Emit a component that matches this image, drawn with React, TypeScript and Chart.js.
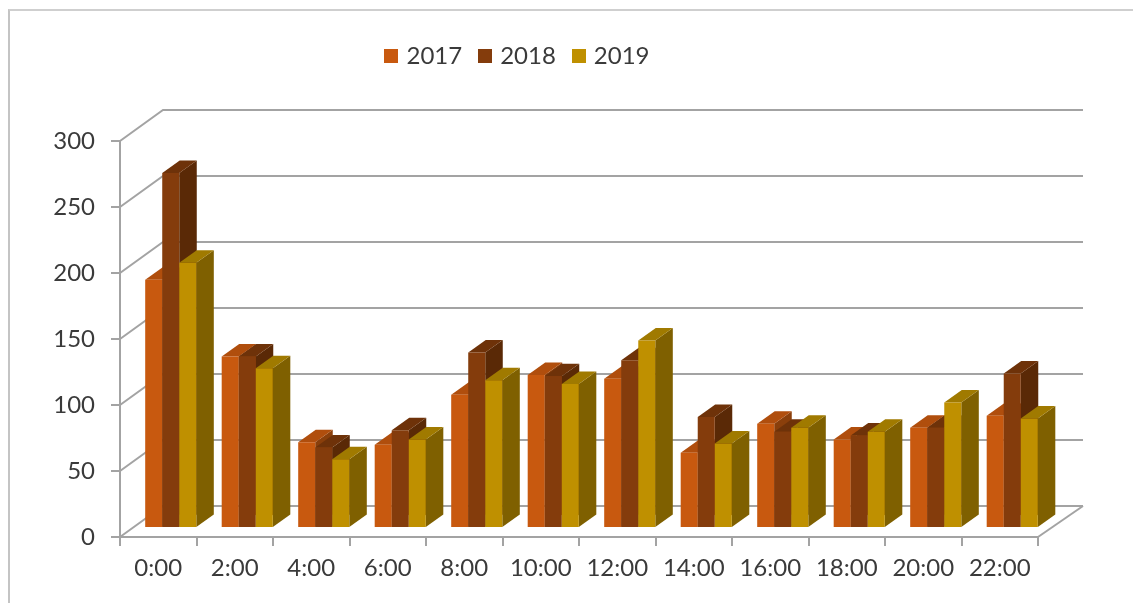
import React, { useEffect, useRef } from "react";
import { Chart, registerables } from "chart.js";

Chart.register(...registerables);

const categories = ["0:00", "2:00", "4:00", "6:00", "8:00", "10:00", "12:00", "14:00", "16:00", "18:00", "20:00", "22:00"];
const values2017 = [188, 130, 65, 63, 101, 116, 113, 57, 79, 67, 76, 85];
const values2018 = [269, 130, 61, 74, 133, 115, 127, 84, 73, 70, 76, 117];
const values2019 = [201, 121, 52, 67, 112, 109, 142, 64, 76, 73, 95, 83];
const seriesNames = ["2017", "2018", "2019"];
const frontColors = ["#C8590F", "#843C0C", "#BF9000"];
const sideColors = ["#8A3F0B", "#5A2906", "#7F6000"];
const topColors = ["#B04E0D", "#6E3209", "#A07A00"];

const WALL_DX = 43;
const WALL_DY = -31;
const BAR_DX = 12.5;
const BAR_DY = -9;
const DEPTH_DX = 17.5;
const DEPTH_DY = -12.5;
const LINE = "#A3A3A3";
const TEXT = "#3A3A3A";
const FONT = "Lato";

function swatch(color: string) {
  const c = document.createElement("canvas");
  c.width = 14;
  c.height = 14;
  const g = c.getContext("2d")!;
  g.fillStyle = color;
  g.fillRect(0, 0, 14, 14);
  return c;
}

const scene3d = {
  id: "scene3d",
  beforeLayout(chart: any) {
    const legend = chart.legend;
    if (legend && !legend.__wrapped) {
      const fit = legend.fit;
      legend.fit = function () {
        fit.call(this);
        this.height = 117;
      };
      legend.__wrapped = true;
    }
  },
  beforeDatasetsDraw(chart: any) {
    const { ctx, chartArea, scales } = chart;
    const { left, right, bottom } = chartArea;
    const y = scales.y;

    ctx.save();
    ctx.strokeStyle = LINE;
    ctx.lineWidth = 2;
    for (const tick of y.ticks) {
      const py = y.getPixelForValue(tick.value);
      ctx.beginPath();
      ctx.moveTo(left, py);
      ctx.lineTo(left + WALL_DX, py + WALL_DY);
      ctx.lineTo(right + WALL_DX + 2, py + WALL_DY);
      ctx.stroke();
    }
    ctx.beginPath();
    ctx.moveTo(right, bottom);
    ctx.lineTo(right + WALL_DX + 2, bottom + WALL_DY);
    ctx.stroke();
    ctx.restore();

    ctx.save();
    ctx.translate(BAR_DX, BAR_DY);
    chart.data.datasets.forEach((_: any, di: number) => {
      const meta = chart.getDatasetMeta(di);
      meta.data.forEach((bar: any) => {
        const p = bar.getProps(["x", "y", "base", "width"], true);
        const l = p.x - p.width / 2;
        const r = p.x + p.width / 2;
        ctx.fillStyle = sideColors[di];
        ctx.beginPath();
        ctx.moveTo(r, p.y);
        ctx.lineTo(r + DEPTH_DX, p.y + DEPTH_DY);
        ctx.lineTo(r + DEPTH_DX, p.base + DEPTH_DY);
        ctx.lineTo(r, p.base);
        ctx.closePath();
        ctx.fill();
        ctx.fillStyle = topColors[di];
        ctx.beginPath();
        ctx.moveTo(l, p.y);
        ctx.lineTo(l + DEPTH_DX, p.y + DEPTH_DY);
        ctx.lineTo(r + DEPTH_DX, p.y + DEPTH_DY);
        ctx.lineTo(r, p.y);
        ctx.closePath();
        ctx.fill();
        bar.draw(ctx, chartArea);
      });
    });
    ctx.restore();
    return false;
  },
};

export default function App() {
  const ref = useRef<HTMLCanvasElement>(null);
  useEffect(() => {
    const series = [values2017, values2018, values2019];
    const chart = new Chart(ref.current!, {
      type: "bar",
      plugins: [scene3d],
      data: {
        labels: categories,
        datasets: series.map((data, i) => ({
          label: seriesNames[i],
          data,
          backgroundColor: frontColors[i],
          borderWidth: 0,
          categoryPercentage: 0.668,
          barPercentage: 1,
        })),
      },
      options: {
        animation: false,
        responsive: false,
        devicePixelRatio: 1,
        layout: { padding: { top: 24, right: 95, left: 0, bottom: 0 } },
        plugins: {
          tooltip: { enabled: false },
          legend: {
            position: "top",
            labels: {
              usePointStyle: true,
              boxWidth: 6,
              boxHeight: 14,
              padding: 20,
              color: TEXT,
              font: { family: FONT, size: 24 },
              generateLabels: () =>
                seriesNames.map((text, i) => ({
                  text,
                  datasetIndex: i,
                  pointStyle: swatch(frontColors[i]),
                  fontColor: TEXT,
                  lineWidth: 0,
                })),
            },
          },
        },
        scales: {
          x: {
            afterFit(s: any) {
              s.height = 66;
            },
            grid: { drawOnChartArea: false, color: LINE, tickLength: 9, lineWidth: 2 },
            border: { color: LINE, width: 2 },
            ticks: { color: TEXT, font: { family: FONT, size: 24 }, padding: 8, maxRotation: 0, autoSkip: false },
          },
          y: {
            min: 0,
            max: 300,
            afterFit(s: any) {
              s.width = 120;
            },
            grid: { drawOnChartArea: false, color: LINE, tickLength: 9, lineWidth: 2 },
            border: { color: LINE, width: 2 },
            ticks: { stepSize: 50, color: TEXT, font: { family: FONT, size: 24 }, padding: 16 },
          },
        },
      },
    } as any);
    return () => chart.destroy();
  }, []);

  return (
    <div style={{ position: "absolute", left: 0, top: 0, width: 1133, height: 603, overflow: "hidden", background: "#fff", filter: "blur(0.6px)" }}>
      <div style={{ position: "absolute", left: 8, top: 9, right: -4, bottom: -4, borderLeft: "2px solid #C4C4C4", borderTop: "2px solid #CFCFCF" }} />
      <canvas ref={ref} width={1133} height={603} style={{ position: "absolute", left: 0, top: 0, display: "block" }} />
    </div>
  );
}
